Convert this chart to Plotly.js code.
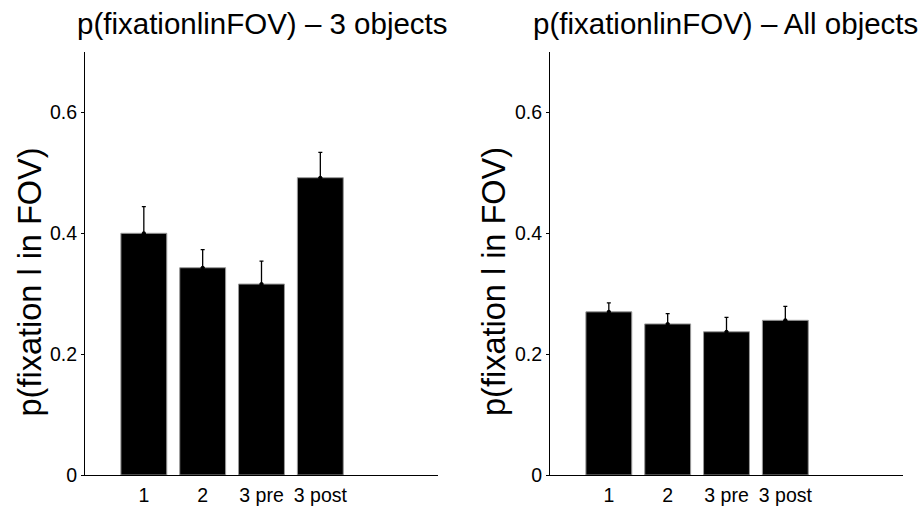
<!DOCTYPE html>
<html>
<head>
<meta charset="utf-8">
<script src="https://cdn.plot.ly/plotly-3.0.1.min.js"></script>
<style>html,body{margin:0;padding:0;background:#fff;}#chart{width:924px;height:506px;}</style>
</head>
<body>
<div id="chart"></div>
<script>
const categories = ["1", "2", "3 pre", "3 post"];
const positions = [1, 2, 3, 4];
const threeObjects = [0.400, 0.343, 0.316, 0.492];
const threeObjectsErr = [0.044, 0.030, 0.038, 0.042];
const allObjects = [0.270, 0.250, 0.237, 0.256];
const allObjectsErr = [0.015, 0.017, 0.024, 0.023];
const titles = ["p(fixationlinFOV) \u2013 3 objects", "p(fixationlinFOV) \u2013 All objects"];
const yLabel = "p(fixation l in FOV)";
const yTicks = [0, 0.2, 0.4, 0.6];

const FONT = "Liberation Sans, Arial, Helvetica, sans-serif";

function barTrace(vals, errs, xa, ya) {
  return {
    type: "bar", x: positions, y: vals, xaxis: xa, yaxis: ya,
    width: 0.78,
    marker: {color: "#000000", line: {color: "#999999", width: 1}},
    error_y: {type: "data", array: errs, symmetric: false, arrayminus: errs.map(() => 0),
              color: "#000000", thickness: 1.3, width: 2},
    showlegend: false, hoverinfo: "skip"
  };
}
function dotTrace(vals, xa, ya) {
  return {
    type: "scatter", mode: "markers", x: positions, y: vals, xaxis: xa, yaxis: ya,
    marker: {color: "#000000", size: 4}, showlegend: false, hoverinfo: "skip"
  };
}

const data = [
  barTrace(threeObjects, threeObjectsErr, "x", "y"),
  dotTrace(threeObjects, "x", "y"),
  barTrace(allObjects, allObjectsErr, "x2", "y2"),
  dotTrace(allObjects, "x2", "y2")
];

const yDom = [1 - 475/506, 1 - 52/506];
function xAxis(dom) {
  return {
    domain: dom, range: [0, 6], tickvals: positions, ticktext: categories,
    ticks: "", ticklabelstandoff: 3, showline: true, linecolor: "#000", linewidth: 1, showgrid: false, zeroline: false,
    tickfont: {family: FONT, size: 19.5, color: "#000"}, fixedrange: true
  };
}
function yAxis(anchor) {
  return {
    domain: yDom, range: [0, 0.7], anchor: anchor, tickvals: yTicks, ticktext: ["0", "0.2", "0.4", "0.6"],
    ticks: "outside", ticklen: 3, tickcolor: "#000", showline: true, linecolor: "#000", linewidth: 1,
    showgrid: false, zeroline: false,
    tickfont: {family: FONT, size: 19.5, color: "#000"}, fixedrange: true
  };
}

const layout = {
  width: 924, height: 506,
  margin: {l: 0, r: 0, t: 0, b: 0},
  paper_bgcolor: "#fff", plot_bgcolor: "#fff",
  bargap: 0,
  xaxis: xAxis([85/924, 438/924]),
  yaxis: yAxis("x"),
  xaxis2: Object.assign(xAxis([550/924, 903/924]), {anchor: "y2"}),
  yaxis2: yAxis("x2"),
  annotations: [
    {text: titles[0], xref: "paper", yref: "paper", x: 262/924, y: 1 - 24/506, xanchor: "center", yanchor: "middle",
     showarrow: false, font: {family: FONT, size: 29.5, color: "#000"}},
    {text: titles[1], xref: "paper", yref: "paper", x: 725/924, y: 1 - 24/506, xanchor: "center", yanchor: "middle",
     showarrow: false, font: {family: FONT, size: 29.5, color: "#000"}},
    {text: yLabel, xref: "paper", yref: "paper", x: 29.5/924, y: 1 - 282/506, xanchor: "center", yanchor: "middle",
     textangle: -90, showarrow: false, font: {family: FONT, size: 32.5, color: "#000"}},
    {text: yLabel, xref: "paper", yref: "paper", x: 494/924, y: 1 - 282/506, xanchor: "center", yanchor: "middle",
     textangle: -90, showarrow: false, font: {family: FONT, size: 32.5, color: "#000"}}
  ]
};

Plotly.newPlot("chart", data, layout, {staticPlot: true, displayModeBar: false});
</script>
</body>
</html>
